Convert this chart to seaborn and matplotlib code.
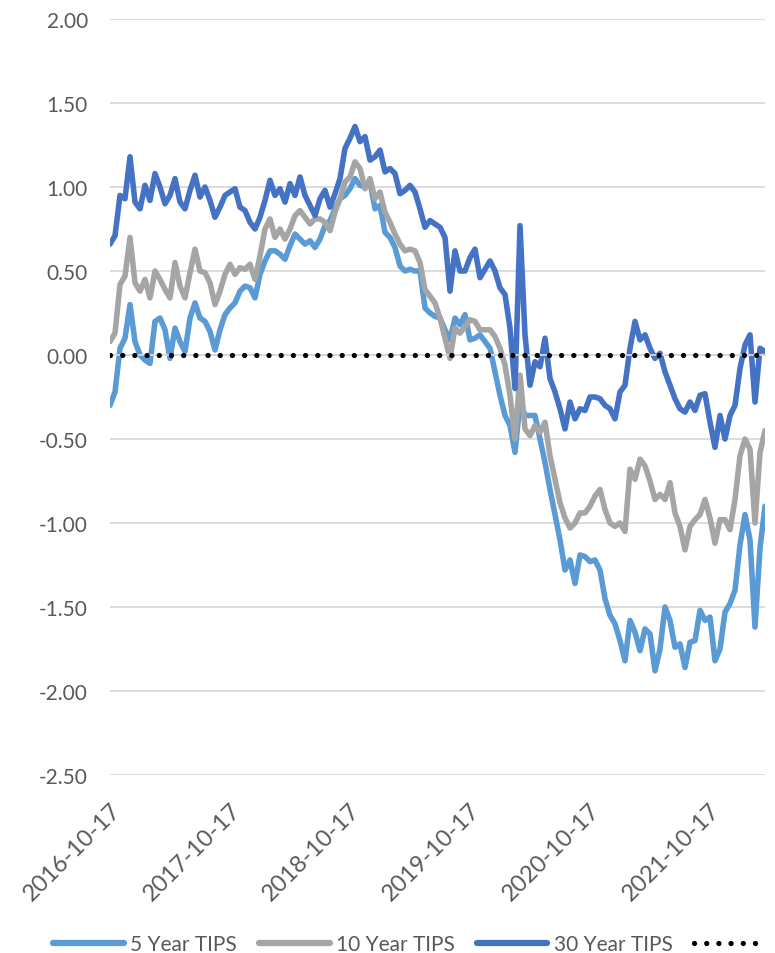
import pandas as pd
import numpy as np
import matplotlib
matplotlib.use("Agg")
import matplotlib.pyplot as plt
import matplotlib.dates as mdates
from matplotlib.lines import Line2D
import seaborn as sns

dates = pd.date_range("2016-10-17", periods=132, freq="15D6h")

tips_5y = [
    -0.30, -0.22, 0.04, 0.10, 0.30, 0.08, 0.00, -0.03, -0.05, 0.20,
    0.22, 0.15, -0.02, 0.16, 0.08, 0.02, 0.22, 0.31, 0.22, 0.20,
    0.14, 0.03, 0.15, 0.24, 0.28, 0.31, 0.38, 0.41, 0.40, 0.34,
    0.48, 0.56, 0.62, 0.62, 0.60, 0.57, 0.65, 0.72, 0.69, 0.66,
    0.68, 0.64, 0.69, 0.77, 0.80, 0.87, 0.93, 0.95, 0.99, 1.05,
    1.01, 1.00, 1.03, 0.87, 0.89, 0.73, 0.70, 0.64, 0.53, 0.50,
    0.51, 0.50, 0.50, 0.28, 0.25, 0.23, 0.22, 0.15, 0.09, 0.22,
    0.18, 0.24, 0.09, 0.10, 0.12, 0.08, 0.04, -0.10, -0.24, -0.36,
    -0.42, -0.58, -0.28, -0.36, -0.36, -0.36, -0.50, -0.64, -0.80, -0.95,
    -1.10, -1.28, -1.22, -1.36, -1.19, -1.20, -1.23, -1.22, -1.28, -1.45,
    -1.55, -1.60, -1.70, -1.82, -1.58, -1.65, -1.76, -1.63, -1.66, -1.88,
    -1.75, -1.50, -1.58, -1.74, -1.72, -1.86, -1.71, -1.70, -1.52, -1.58,
    -1.56, -1.82, -1.75, -1.53, -1.48, -1.40, -1.13, -0.95, -1.10, -1.62,
    -1.15, -0.90,
]

tips_10y = [
    0.08, 0.13, 0.42, 0.47, 0.70, 0.43, 0.38, 0.45, 0.34, 0.50,
    0.45, 0.39, 0.34, 0.55, 0.41, 0.34, 0.49, 0.63, 0.50, 0.49,
    0.43, 0.30, 0.38, 0.48, 0.54, 0.48, 0.52, 0.51, 0.54, 0.45,
    0.59, 0.75, 0.81, 0.70, 0.75, 0.69, 0.75, 0.83, 0.86, 0.82,
    0.78, 0.81, 0.81, 0.79, 0.74, 0.85, 0.93, 1.03, 1.06, 1.15,
    1.11, 0.99, 1.05, 0.93, 0.97, 0.85, 0.79, 0.72, 0.66, 0.62,
    0.63, 0.62, 0.55, 0.39, 0.35, 0.31, 0.22, 0.10, -0.02, 0.16,
    0.13, 0.17, 0.21, 0.20, 0.15, 0.15, 0.15, 0.11, 0.04, -0.06,
    -0.24, -0.50, -0.12, -0.44, -0.48, -0.42, -0.46, -0.40, -0.60, -0.74,
    -0.88, -0.97, -1.03, -1.00, -0.94, -0.94, -0.90, -0.84, -0.80, -0.92,
    -1.00, -1.02, -1.00, -1.05, -0.68, -0.74, -0.62, -0.66, -0.75, -0.86,
    -0.83, -0.86, -0.76, -0.94, -1.02, -1.16, -1.02, -0.98, -0.95, -0.86,
    -0.97, -1.12, -0.98, -0.98, -1.04, -0.86, -0.60, -0.50, -0.56, -1.00,
    -0.58, -0.45,
]

tips_30y = [
    0.66, 0.71, 0.95, 0.93, 1.18, 0.91, 0.87, 1.01, 0.92, 1.08,
    1.00, 0.90, 0.95, 1.05, 0.91, 0.87, 0.98, 1.07, 0.94, 1.00,
    0.92, 0.82, 0.88, 0.95, 0.97, 0.99, 0.88, 0.86, 0.79, 0.75,
    0.82, 0.92, 1.04, 0.95, 0.99, 0.91, 1.02, 0.95, 1.06, 0.95,
    0.89, 0.83, 0.93, 0.98, 0.88, 0.96, 1.05, 1.23, 1.29, 1.36,
    1.27, 1.30, 1.16, 1.18, 1.22, 1.09, 1.11, 1.08, 0.96, 0.98,
    1.01, 0.97, 0.87, 0.76, 0.80, 0.78, 0.76, 0.70, 0.38, 0.62,
    0.50, 0.50, 0.58, 0.63, 0.46, 0.51, 0.56, 0.50, 0.40, 0.36,
    0.16, -0.20, 0.77, 0.12, -0.18, -0.04, -0.07, 0.10, -0.14, -0.22,
    -0.32, -0.44, -0.28, -0.38, -0.32, -0.33, -0.25, -0.25, -0.26, -0.30,
    -0.32, -0.38, -0.22, -0.18, 0.04, 0.20, 0.09, 0.12, 0.04, -0.02,
    0.01, -0.10, -0.18, -0.26, -0.32, -0.34, -0.28, -0.33, -0.24, -0.23,
    -0.40, -0.55, -0.36, -0.50, -0.36, -0.30, -0.08, 0.06, 0.12, -0.28,
    0.04, 0.02,
]

series_names = ["5 Year TIPS", "10 Year TIPS", "30 Year TIPS"]
series_colors = ["#5B9BD5", "#A5A5A5", "#4472C4"]
tick_labels = ["2016-10-17", "2017-10-17", "2018-10-17",
               "2019-10-17", "2020-10-17", "2021-10-17"]
y_ticks = [-2.5, -2.0, -1.5, -1.0, -0.5, 0.0, 0.5, 1.0, 1.5, 2.0]

df = pd.DataFrame({"date": dates,
                   "5 Year TIPS": tips_5y,
                   "10 Year TIPS": tips_10y,
                   "30 Year TIPS": tips_30y})
df = df.melt(id_vars="date", var_name="series", value_name="yield")

sns.set_style("white")
plt.rcParams["font.family"] = ["Lato", "DejaVu Sans"]

fig = plt.figure(figsize=(7.75, 9.54), dpi=100)
ax = fig.add_axes([110 / 775, 178 / 954, 655 / 775, 756 / 954])

sns.lineplot(data=df, x="date", y="yield", hue="series",
             hue_order=series_names,
             palette=dict(zip(series_names, series_colors)),
             estimator=None, lw=4.0, ax=ax, legend=False)
ax.axhline(0, color="black", lw=3.8, ls=(0, (0.01, 2.3)),
           dash_capstyle="round", zorder=5)

# y axis
ax.set_ylim(-2.5, 2.0)
ax.set_yticks(y_ticks)
ax.set_yticklabels([f"{v:.2f}" for v in y_ticks])
ax.yaxis.grid(True, color="#D9D9D9", lw=1.3)
ax.set_axisbelow(True)
ax.tick_params(axis="y", length=0, pad=16, labelsize=15, labelcolor="#595959")
ax.set_xlabel("")
ax.set_ylabel("")

# x axis crosses at zero, labels stay at the bottom
tick_pos = mdates.date2num(pd.to_datetime(tick_labels))
ax.set_xlim(mdates.date2num(dates[0]), mdates.date2num(dates[-1]))
for side in ["top", "right", "left"]:
    ax.spines[side].set_visible(False)
ax.spines["bottom"].set_position(("data", 0))
ax.spines["bottom"].set_color("#D9D9D9")
ax.spines["bottom"].set_linewidth(1.3)
ax.set_xticks(tick_pos)
ax.tick_params(axis="x", direction="out", length=5, width=1.3,
               color="#D9D9D9", labelbottom=False)

sec = ax.secondary_xaxis("bottom")
sec.set_xticks(tick_pos)
sec.set_xticklabels(tick_labels, rotation=45, ha="right", va="top",
                    rotation_mode="anchor")
sec.tick_params(length=0, pad=17, labelsize=17, labelcolor="#595959")
sec.spines["bottom"].set_visible(False)

handles = [Line2D([], [], color=c, lw=4.5) for c in series_colors]
handles.append(Line2D([], [], color="black", lw=3.8, ls=(0, (0.01, 2.3)),
                      dash_capstyle="round"))
fig.legend(handles, series_names + [""], loc="lower center",
           bbox_to_anchor=(0.532, -0.001), ncol=4, frameon=False,
           handlelength=3.4, handletextpad=0.3, columnspacing=1.05,
           fontsize=15, labelcolor="#595959", borderpad=0,
           borderaxespad=0)

fig.savefig("out.png", dpi=100)
